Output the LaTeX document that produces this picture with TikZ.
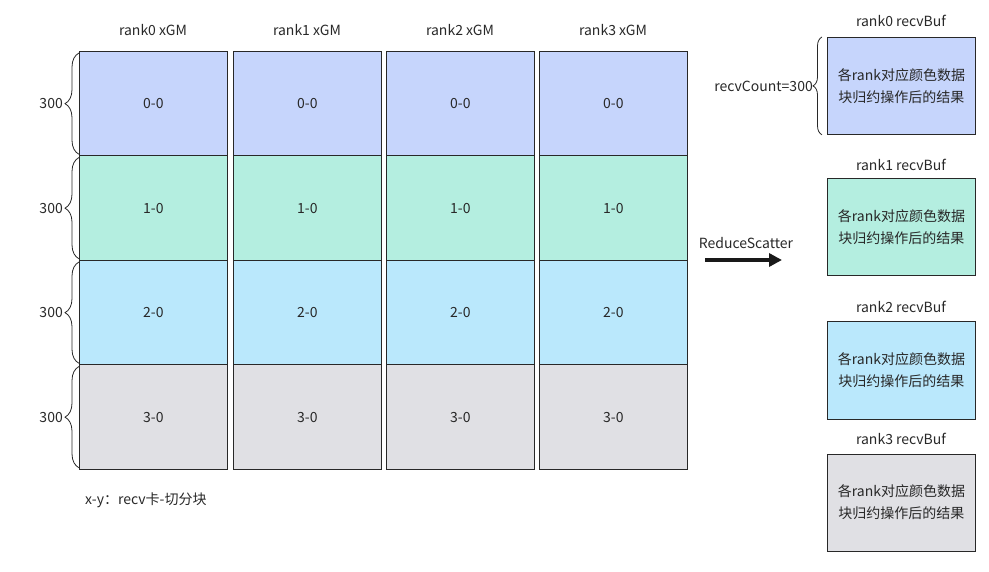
\documentclass[tikz,border=0pt]{standalone}
\usepackage{fontspec}
\setmainfont{Noto Sans CJK SC}
\usetikzlibrary{arrows.meta,decorations.pathreplacing}
\definecolor{cA}{RGB}{198,213,252}
\definecolor{cB}{RGB}{180,238,224}
\definecolor{cC}{RGB}{186,232,252}
\definecolor{cD}{RGB}{224,224,228}
\definecolor{ink}{RGB}{40,40,40}
\begin{document}
\begin{tikzpicture}[x=1pt,y=-1pt,
  every node/.style={font=\fontsize{14}{22}\selectfont, text=ink},
  cell/.style={draw=ink, line width=0.8pt, minimum width=148pt, minimum height=104.5pt, inner sep=0pt, anchor=north west},
  buf/.style={draw=ink, line width=0.8pt, minimum width=148pt, minimum height=97pt, inner sep=0pt, anchor=north west, align=center},
  lbl/.style={inner sep=0pt},
  bracel/.style={draw=ink, line width=0.8pt, decorate, decoration={brace, amplitude=14pt}},
  bracer/.style={draw=ink, line width=0.8pt, decorate, decoration={brace, amplitude=9pt}},
  bigarrow/.style={draw=black!90, line width=3.5pt, -{Triangle[length=13pt,width=13pt]}}]
\useasboundingbox (0,0) rectangle (989,572);
% columns
\foreach \c/\x in {0/79,1/233,2/386,3/539}{
  \node[lbl] (t\c) at (\x+74,30) {rank\c\ xGM};
  \node[cell, fill=cA] (c0\c) at (\x,51) {0-0};
  \node[cell, fill=cB] (c1\c) at (\x,155.5) {1-0};
  \node[cell, fill=cC] (c2\c) at (\x,260) {2-0};
  \node[cell, fill=cD] (c3\c) at (\x,364.5) {3-0};
}
% left braces
\foreach \r in {0,1,2,3}{
  \coordinate (bt\r) at ([yshift=-2pt]c\r0.north west);
  \coordinate (bb\r) at ([yshift=2pt]c\r0.south west);
  \draw[bracel] (bb\r) -- (bt\r);
  \node[lbl, anchor=east] (n\r) at ([xshift=-16pt]c\r0.west) {300};
}
% right buffers
\node[buf, fill=cA] (r0) at (827,37) {各rank对应颜色数据\\块归约操作后的结果};
\node[buf, fill=cB] (r1) at (827,178) {各rank对应颜色数据\\块归约操作后的结果};
\node[buf, fill=cC] (r2) at (827,321.5) {各rank对应颜色数据\\块归约操作后的结果};
\node[buf, fill=cD] (r3) at (827,453.5) {各rank对应颜色数据\\块归约操作后的结果};
\foreach \i/\y in {0/21,1/165,2/307,3/439}{
  \node[lbl] (rt\i) at (901,\y) {rank\i\ recvBuf};
}
\coordinate (rbt) at ([xshift=-5pt]r0.north west);
\coordinate (rbb) at ([xshift=-5pt]r0.south west);
\draw[bracer] (rbb) -- (rbt);
\node[lbl, anchor=east] (rc) at ([xshift=-14pt]r0.west) {recvCount=300};
% arrow
\coordinate (a1) at (705,260);
\coordinate (a2) at (782,260);
\draw[bigarrow] (a1) -- (a2);
\node[lbl] (al) at (746,243) {ReduceScatter};
% legend
\node[lbl, anchor=west] (lg) at (85,500) {x-y：recv卡-切分块};
\end{tikzpicture}
\end{document}
